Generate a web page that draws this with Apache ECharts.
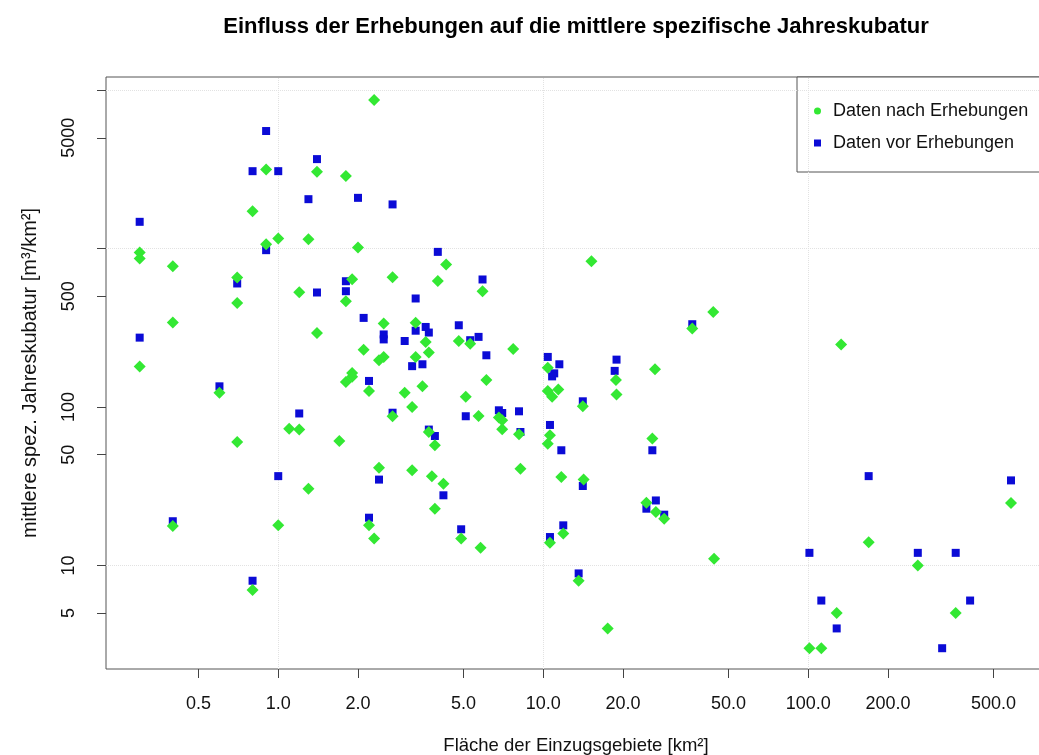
<!DOCTYPE html>
<html>
<head>
<meta charset="utf-8">
<title>Einfluss der Erhebungen</title>
<script src="https://cdn.jsdelivr.net/npm/echarts@6/dist/echarts.min.js"></script>
<style>
  html, body { margin: 0; padding: 0; background: #fff; }
  #chart { width: 1039px; height: 755px; }
</style>
</head>
<body>
<div id="chart"></div>
<script>
// Tick positions of the two logarithmic axes
const xTicks = [0.5, 1, 2, 5, 10, 20, 50, 100, 200, 500];
const yTickMarks = [5, 10, 50, 100, 500, 1000, 5000, 10000];
const yTickLabels = [5, 10, 50, 100, 500, 5000];
const xGridLines = [1, 10, 100];
const yGridLines = [10, 1000, 10000];

// Daten vor Erhebungen: catchment area [km²] and specific annual volume [m³/km²]
const flaecheVor = [
  0.9, 0.8, 1.0, 1.4, 1.3, 2.0, 2.7, 0.3, 0.9, 0.7,
  1.4, 1.8, 1.8, 3.3, 2.1, 2.5, 2.5, 3.0, 3.3, 0.3,
  3.2, 3.6, 3.7, 3.5, 4.8, 5.3, 5.7, 6.1, 4.0, 5.9,
  2.2, 0.6, 1.2, 2.7, 1.0, 2.4, 0.4, 2.2, 0.8, 10.4,
  11.5, 18.9, 18.6, 11.0, 10.8, 36.5, 5.1, 6.8, 7.0, 8.1,
  3.7, 3.9, 8.2, 10.6, 11.7, 14.1, 25.8, 4.2, 14.1, 26.6,
  24.5, 28.6, 4.9, 11.9, 10.6, 13.6, 169, 582, 101, 259,
  360, 112, 408, 128, 320
];
const kubaturVor = [
  5520, 3080, 3080, 3670, 2050, 2090, 1900, 1475, 977, 602,
  528, 622, 538, 484, 365, 287, 267, 261, 303, 274,
  181, 320, 295, 186, 328, 264, 277, 212, 953, 638,
  146, 135, 91, 92, 36.6, 34.8, 19, 20, 8, 207,
  186, 199, 169, 163, 156, 333, 87.4, 95.3, 91.6, 93.9,
  72, 65.6, 69.5, 77, 53.3, 108.6, 53.3, 27.7, 31.7, 25.7,
  22.8, 20.9, 16.9, 17.9, 15.1, 8.9, 36.6, 34.4, 12, 12,
  12, 6, 6, 4, 3
];

// Daten nach Erhebungen
const flaecheNach = [
  2.3, 0.9, 1.4, 1.8, 0.8, 0.3, 0.3, 0.9, 1.0, 1.3,
  2.0, 0.4, 0.7, 1.9, 2.7, 1.2, 0.7, 1.8, 0.4, 1.4,
  2.5, 3.3, 2.1, 2.4, 2.5, 3.3, 0.3, 1.9, 3.6, 3.7,
  4.8, 5.3, 1.8, 1.9, 2.2, 0.6, 3.0, 3.2, 3.5, 2.7,
  1.1, 1.2, 0.7, 1.7, 2.4, 3.2, 1.3, 0.4, 1.0, 2.2,
  2.3, 0.8, 4.3, 4.0, 5.9, 15.2, 43.8, 36.5, 7.7, 26.4,
  10.4, 5.1, 6.1, 10.4, 11.4, 10.8, 18.8, 18.9, 14.1, 5.7,
  6.8, 7.0, 7.0, 3.7, 3.9, 8.1, 10.6, 10.4, 25.8, 3.8,
  4.2, 8.2, 11.7, 14.2, 3.9, 24.5, 26.6, 28.6, 4.9, 5.8,
  11.9, 10.6, 44.1, 13.6, 17.5, 133, 582, 169, 259, 128,
  360, 101, 112
];
const kubaturNach = [
  8660, 3160, 3050, 2870, 1720, 945, 866, 1066, 1158, 1147,
  1016, 774, 657, 641, 660, 530, 454, 465, 341, 293,
  336, 340, 230, 197, 207, 207, 180, 164, 257, 221,
  261, 251, 144, 155, 126, 123, 123, 100, 135, 87.4,
  73, 72, 60, 61, 41.4, 39.8, 30.5, 17.7, 17.9, 17.9,
  14.8, 7, 793, 625, 538, 832, 398, 313, 232, 173,
  177, 116, 148, 126, 129, 116, 148, 120, 101, 87.7,
  85.7, 82.4, 72.3, 69.5, 57.3, 67.2, 66.3, 58.7, 63.2, 36.6,
  32.8, 40.8, 36.1, 34.8, 22.8, 24.9, 21.7, 19.7, 14.8, 12.9,
  15.9, 13.9, 11, 8, 4, 248, 24.8, 14, 10, 5,
  5, 3, 3
];

const pairs = (xs, ys) => xs.map((x, i) => [x, ys[i]]);

const FONT = '"Liberation Sans", Arial, Helvetica, sans-serif';
const chart = echarts.init(document.getElementById('chart'), null, { renderer: 'canvas' });

chart.setOption({
  animation: false,
  backgroundColor: '#ffffff',
  textStyle: { fontFamily: FONT },
  grid: {
    left: 106, top: 77, right: -7, bottom: 86,
    outerBoundsMode: 'none', containLabel: false,
    show: true, borderColor: '#555', borderWidth: 1, backgroundColor: 'transparent'
  },
  graphic: [
    {
      type: 'text', x: 576, y: 27,
      style: {
        text: 'Einfluss der Erhebungen auf die mittlere spezifische Jahreskubatur',
        fontFamily: FONT, fontSize: 22, fontWeight: 'bold', fill: '#000',
        align: 'center', verticalAlign: 'middle'
      }
    },
    {
      type: 'rect', z: 1,
      shape: { x: 797, y: 77, width: 260, height: 95 },
      style: { fill: '#fff', stroke: '#555', lineWidth: 1 }
    }
  ],
  legend: {
    orient: 'vertical', left: 809, top: 97,
    itemWidth: 7, itemHeight: 7, itemGap: 14,
    textStyle: { fontFamily: FONT, fontSize: 18, color: '#111', padding: [0, 0, 0, 7], lineHeight: 18 },
    data: [
      { name: 'Daten nach Erhebungen', icon: 'circle' },
      { name: 'Daten vor Erhebungen', icon: 'rect' }
    ],
    z: 5
  },
  xAxis: {
    type: 'log', logBase: 10, min: 0.2239, max: 788.9,
    name: 'Fläche der Einzugsgebiete [km²]',
    nameLocation: 'middle', nameGap: 67,
    nameTextStyle: { fontFamily: FONT, fontSize: 18.5, color: '#111' },
    axisLine: { show: false },
    axisTick: { show: true, customValues: xTicks, length: 9, lineStyle: { color: '#444' } },
    axisLabel: {
      customValues: xTicks, margin: 26, fontSize: 18, color: '#111', fontFamily: FONT,
      formatter: v => Number(v).toFixed(1)
    },
    splitLine: { show: false }
  },
  yAxis: {
    type: 'log', logBase: 10, min: 2.218, max: 12106,
    name: 'mittlere spez. Jahreskubatur [m³/km²]',
    nameLocation: 'middle', nameGap: 66, nameRotate: 90,
    nameTextStyle: { fontFamily: FONT, fontSize: 20, color: '#111' },
    axisLine: { show: false },
    axisTick: { show: true, customValues: yTickMarks, length: 9, lineStyle: { color: '#444' } },
    axisLabel: {
      customValues: yTickLabels, margin: 28, rotate: 90, fontSize: 18, color: '#111', fontFamily: FONT,
      formatter: v => String(Math.round(v))
    },
    splitLine: { show: false }
  },
  series: [
    {
      // faint dotted reference lines at the decades, kept beneath the points
      name: 'grid', type: 'scatter', data: [], z: 1, silent: true,
      markLine: {
        silent: true, symbol: 'none', label: { show: false }, z: 1,
        lineStyle: { color: '#e2e2e2', type: 'dotted', width: 1 },
        data: xGridLines.map(v => ({ xAxis: v })).concat(yGridLines.map(v => ({ yAxis: v })))
      }
    },
    {
      name: 'Daten vor Erhebungen', type: 'scatter',
      symbol: 'rect', symbolSize: 8,
      itemStyle: { color: '#0b0bd6', opacity: 1 },
      data: pairs(flaecheVor, kubaturVor),
      z: 3
    },
    {
      name: 'Daten nach Erhebungen', type: 'scatter',
      symbol: 'diamond', symbolSize: 12,
      itemStyle: { color: '#33e833', opacity: 1 },
      data: pairs(flaecheNach, kubaturNach),
      z: 4
    }
  ]
});
</script>
</body>
</html>
